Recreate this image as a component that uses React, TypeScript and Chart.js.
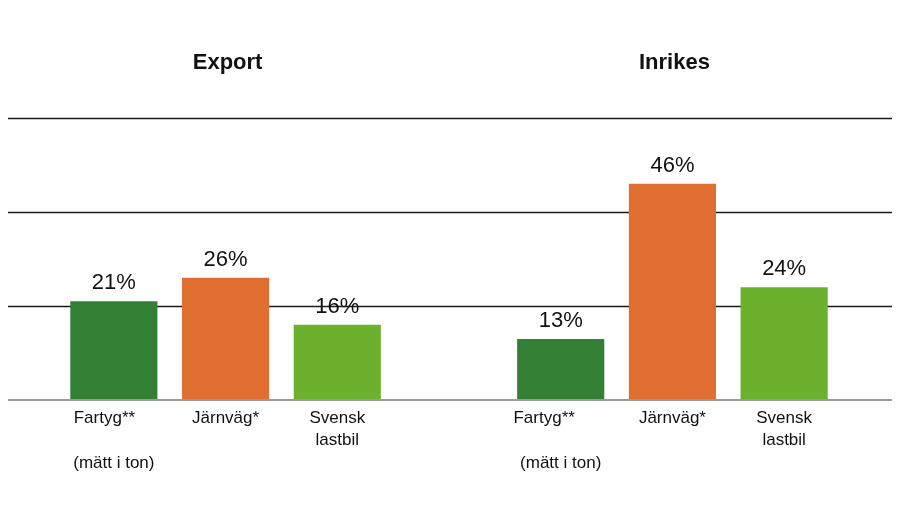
import React, { useEffect, useRef } from "react";
import { Chart, registerables } from "chart.js";

Chart.register(...registerables);

const categories: (string | string[])[] = [
  ["Fartyg**    ", "", "(mätt i ton)"],
  "Järnväg*",
  ["Svensk", "lastbil"],
  "",
  ["Fartyg**       ", "", "(mätt i ton)"],
  "Järnväg*",
  ["Svensk", "lastbil"],
];
const values: (number | null)[] = [21, 26, 16, null, 13, 46, 24];
const barColors = ["#337F34", "#E06E31", "#6BB12E", "rgba(0,0,0,0)", "#337F34", "#E06E31", "#6BB12E"];
const groupTitles = ["Export", "Inrikes"];
const groupTitleIndex = [1, 5];
const yTicks = [20, 40, 60];

const FONT = "'Liberation Sans', Arial, sans-serif";

const gridPlugin = {
  id: "fullGrid",
  beforeDatasetsDraw(chart: any) {
    const { ctx, scales, width } = chart;
    const y = scales.y;
    ctx.save();
    ctx.strokeStyle = "#1a1a1a";
    ctx.lineWidth = 1.5;
    yTicks.forEach((t) => {
      const py = Math.round(y.getPixelForValue(t)) + 0.5;
      ctx.beginPath();
      ctx.moveTo(1, py);
      ctx.lineTo(width - 1, py);
      ctx.stroke();
    });
    ctx.restore();
  },
  afterDatasetsDraw(chart: any) {
    const { ctx, scales, width } = chart;
    const y = scales.y;
    const x = scales.x;
    ctx.save();
    ctx.strokeStyle = "#9a9a9a";
    ctx.lineWidth = 2;
    const py = Math.round(y.getPixelForValue(0));
    ctx.beginPath();
    ctx.moveTo(1, py);
    ctx.lineTo(width - 1, py);
    ctx.stroke();

    // value labels
    ctx.fillStyle = "#111";
    ctx.font = `22px ${FONT}`;
    ctx.textAlign = "center";
    ctx.textBaseline = "bottom";
    const meta = chart.getDatasetMeta(0);
    meta.data.forEach((bar: any, i: number) => {
      const v = values[i];
      if (v == null) return;
      ctx.fillText(`${v}%`, bar.x, bar.y - 7);
    });

    // group titles
    ctx.font = `bold 22px ${FONT}`;
    ctx.textBaseline = "middle";
    groupTitles.forEach((t, i) => {
      const px = x.getPixelForValue(groupTitleIndex[i]);
      ctx.fillText(t, px + 2, 55);
    });
    ctx.restore();
  },
};

export default function App() {
  const ref = useRef<HTMLCanvasElement | null>(null);
  useEffect(() => {
    if (!ref.current) return;
    const chart = new Chart(ref.current, {
      type: "bar",
      data: {
        labels: categories as any,
        datasets: [
          {
            data: values,
            backgroundColor: barColors,
            borderWidth: 0,
            categoryPercentage: 1,
            barPercentage: 0.78,
          },
        ],
      },
      options: {
        animation: false,
        responsive: true,
        maintainAspectRatio: false,
        layout: { padding: { top: 110, left: 54, right: 53, bottom: 0 } },
        plugins: {
          legend: { display: false },
          tooltip: { enabled: false },
        },
        scales: {
          y: { display: false, min: 0, max: 60 },
          x: {
            grid: { display: false, drawTicks: false },
            border: { display: false },
            ticks: {
              color: "#111",
              padding: 7,
              maxRotation: 0,
              autoSkip: false,
              font: { family: FONT, size: 17, lineHeight: 1.32 },
            },
            afterFit: (scale: any) => {
              scale.height = 99;
            },
          },
        },
      },
      plugins: [gridPlugin],
    });
    return () => chart.destroy();
  }, []);
  return (
    <div style={{ width: 889, height: 491, marginLeft: -4, position: "relative" }}>
      <canvas ref={ref} />
    </div>
  );
}
